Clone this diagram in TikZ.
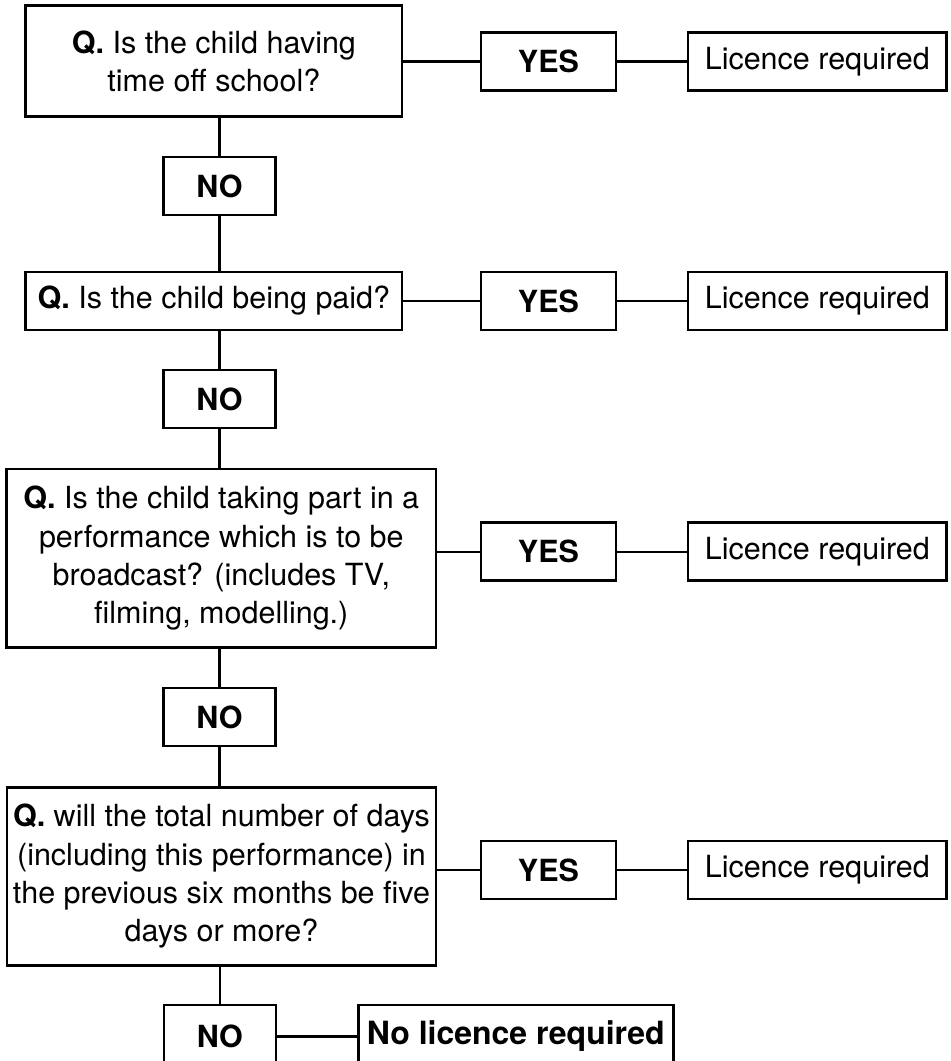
\documentclass[tikz,border=0pt]{standalone}
\usepackage{fontspec}
\setmainfont{TeX Gyre Heros}
\begin{document}
\begin{tikzpicture}[x=1pt,y=-1pt,
  box/.style={draw, line width=2.6pt, inner sep=0pt, align=center,
    font=\fontsize{30.5}{38.3}\selectfont},
  qbox/.style={box},
  yesbox/.style={box, minimum width=135pt, minimum height=58pt, font=\fontsize{30.5}{38.3}\selectfont\bfseries},
  nobox/.style={box, minimum width=112pt, minimum height=58pt, font=\fontsize{30.5}{38.3}\selectfont\bfseries},
  licbox/.style={box, minimum width=258.7pt, minimum height=58pt},
  link/.style={line width=2.4pt}]
\path[use as bounding box, clip] (0,0) rectangle (951,1061);

% questions
\node[qbox, minimum width=376.3pt, minimum height=111pt] (q1) at (213.9,61.2)
  {\textbf{Q.} Is the child having\\time off school?};
\node[qbox, minimum width=376.3pt, minimum height=58pt] (q2) at (213.9,301)
  {\textbf{Q.} Is the child being paid?};
\node[qbox, minimum width=429.3pt, minimum height=178.7pt] (q3) at (221.3,558.3)
  {\textbf{Q.} Is the child taking part in a\\performance which is to be\\broadcast? (includes TV,\\filming, modelling.)};
\node[qbox, minimum width=429.1pt, minimum height=178pt] (q4) at (221.5,876.3)
  {\textbf{Q.} will the total number of days\\(including this performance) in\\the previous six months be five\\days or more?};

% NO boxes
\node[nobox] (no1) at (219.5,186) {NO};
\node[nobox] (no2) at (219.5,399) {NO};
\node[nobox] (no3) at (219.5,717) {NO};
\node[nobox, minimum height=63pt] (no4) at (219.8,1036.5) {NO};

% YES boxes
\node[yesbox] (yes1) at (548.5,61.5) {YES};
\node[yesbox] (yes2) at (548.5,301) {YES};
\node[yesbox] (yes3) at (548.5,551.7) {YES};
\node[yesbox] (yes4) at (548.5,870) {YES};

% Licence boxes
\node[licbox] (lic1) at (817.3,61.5) {Licence required};
\node[licbox] (lic2) at (817.3,301) {Licence required};
\node[licbox] (lic3) at (817.3,551.7) {Licence required};
\node[licbox] (lic4) at (817.3,870) {Licence required};

\node[box, minimum width=315pt, minimum height=63pt, font=\fontsize{32}{38}\selectfont\bfseries] (nolic) at (515.8,1036.5) {No licence required};

% vertical connectors
\draw[link] (no1.north |- q1.south) -- (no1.north);
\draw[link] (no1.south) -- (no1.south |- q2.north);
\draw[link] (no2.north |- q2.south) -- (no2.north);
\draw[link] (no2.south) -- (no2.south |- q3.north);
\draw[link] (no3.north |- q3.south) -- (no3.north);
\draw[link] (no3.south) -- (no3.south |- q4.north);
\draw[link] (no4.north |- q4.south) -- (no4.north);

% horizontal connectors
\foreach \i in {1,2,3,4}{
  \draw[link] (yes\i.west -| q\i.east) -- (yes\i.west);
  \draw[link] (yes\i.east) -- (lic\i.west);
}
\draw[link] (no4.east |- nolic.west) -- (nolic.west);
\end{tikzpicture}
\end{document}
